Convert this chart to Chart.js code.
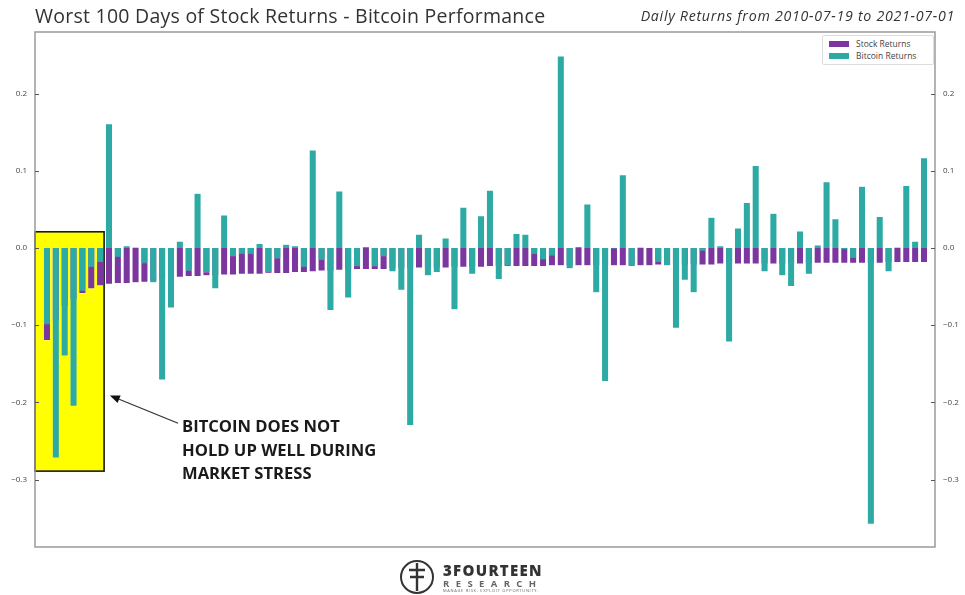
<!DOCTYPE html>
<html>
<head>
<meta charset="utf-8">
<script src="https://cdn.jsdelivr.net/npm/chart.js@4.4.1/dist/chart.umd.min.js"></script>
<style>
html,body{margin:0;padding:0;background:#fff;}
#wrap{position:relative;width:965px;height:595px;overflow:hidden;font-family:"Open Sans",sans-serif;}
#c{position:absolute;left:0;top:0;}
.title{position:absolute;left:35px;top:2px;font-size:19.5px;letter-spacing:0.25px;color:#333;white-space:nowrap;}
.subtitle{position:absolute;right:10px;top:6px;font-size:14.2px;letter-spacing:0.72px;font-style:italic;color:#333;white-space:nowrap;}
.legend{position:absolute;left:822px;top:35px;width:110px;height:28px;border:1px solid #ddd;background:#fff;border-radius:2px;font-size:8.5px;color:#444;}
.legend .row{position:absolute;left:6px;height:12px;line-height:12px;white-space:nowrap;}
.legend .sw{display:inline-block;width:20px;height:6px;vertical-align:middle;margin-right:7px;margin-top:-2px;}
.note{position:absolute;left:182px;top:414px;font-weight:700;font-size:16.6px;line-height:23.5px;color:#1a1a1a;white-space:nowrap;}
.logo{position:absolute;left:398px;top:558px;width:160px;height:37px;}
.logo .name{position:absolute;left:45px;top:2px;font-weight:800;font-size:15px;letter-spacing:1.3px;color:#333;}
.logo .sub{position:absolute;left:45px;top:19px;font-size:9.5px;font-weight:700;letter-spacing:6.4px;color:#666;}
.logo .tag{position:absolute;left:45px;top:30px;font-size:4px;letter-spacing:0.7px;color:#666;white-space:nowrap;}
</style>
</head>
<body>
<div id="wrap">
<canvas id="c" width="965" height="595"></canvas>
<div class="title" id="title"></div>
<div class="subtitle" id="subtitle"></div>
<div class="legend" id="legend"></div>
<div class="note" id="note"></div>
<div class="logo">
  <svg width="40" height="37" viewBox="0 0 40 37">
    <circle cx="19" cy="19" r="16" fill="none" stroke="#333" stroke-width="2"/>
    <path d="M19 5 V33 M19 12 H11 M19 19 H12 M19 12 H27 M19 19 H26" stroke="#333" stroke-width="2.4" fill="none"/>
  </svg>
  <div class="name">3FOURTEEN</div>
  <div class="sub">RESEARCH</div>
  <div class="tag">MANAGE RISK. EXPLOIT OPPORTUNITY.</div>
</div>
</div>
<script>
// ---------- data ----------
const chartTitle = "Worst 100 Days of Stock Returns - Bitcoin Performance";
const chartSubtitle = "Daily Returns from 2010-07-19 to 2021-07-01";
const seriesNames = ["Stock Returns", "Bitcoin Returns"];
const noteLines = ["BITCOIN DOES NOT", "HOLD UP WELL DURING", "MARKET STRESS"];
const yTickValues = [-0.3, -0.2, -0.1, 0.0, 0.1, 0.2];

const stockReturns = [
 -0.120,-0.095,-0.076,-0.067,-0.059,-0.053,-0.049,-0.047,-0.046,-0.046,
 -0.045,-0.0445,-0.043,-0.041,-0.039,-0.038,-0.037,-0.037,-0.036,-0.036,
 -0.035,-0.035,-0.034,-0.034,-0.034,-0.033,-0.033,-0.033,-0.032,-0.032,
 -0.031,-0.030,-0.030,-0.029,-0.029,-0.028,-0.028,-0.028,-0.028,-0.027,
 -0.027,-0.027,-0.026,-0.026,-0.026,-0.026,-0.025,-0.025,-0.025,-0.025,
 -0.024,-0.024,-0.024,-0.024,-0.024,-0.024,-0.024,-0.023,-0.023,-0.023,
 -0.023,-0.023,-0.023,-0.023,-0.023,-0.023,-0.023,-0.023,-0.023,-0.022,
 -0.022,-0.022,-0.022,-0.022,-0.022,-0.022,-0.021,-0.021,-0.021,-0.021,
 -0.021,-0.021,-0.021,-0.021,-0.021,-0.021,-0.021,-0.020,-0.020,-0.020,
 -0.020,-0.020,-0.020,-0.020,-0.020,-0.019,-0.019,-0.019,-0.019,-0.019
];
const bitcoinReturns = [
 -0.099,-0.272,-0.140,-0.205,-0.056,-0.025,-0.018, 0.161,-0.012, 0.003,
  0.001,-0.020,-0.045,-0.171,-0.078, 0.009,-0.030, 0.071,-0.032,-0.053,
  0.043,-0.011,-0.008,-0.008, 0.006,-0.032,-0.014, 0.005, 0.003,-0.025,
  0.127,-0.016,-0.081, 0.074,-0.065,-0.024, 0.002,-0.024,-0.011,-0.031,
 -0.055,-0.230, 0.018,-0.036,-0.032, 0.013,-0.080, 0.053,-0.034, 0.042,
  0.075,-0.041,-0.023, 0.019, 0.018,-0.008,-0.015,-0.010, 0.249,-0.027,
  0.002, 0.057,-0.058,-0.173,-0.001, 0.095,-0.024, 0.001, 0.000,-0.018,
 -0.023,-0.104,-0.042,-0.058,-0.004, 0.040, 0.003,-0.122, 0.026, 0.059,
  0.107,-0.031, 0.045,-0.036,-0.050, 0.022,-0.034, 0.004, 0.086, 0.038,
 -0.002,-0.013, 0.080,-0.358, 0.041,-0.031, 0.001, 0.081, 0.009, 0.117
];

// ---------- styles / layout ----------
const STOCK_COLOR = "#7b369f";
const BTC_COLOR = "#2eaaa4";
const X_MIN = -1.35, X_MAX = 100.24;
const Y_MIN = -0.3873, Y_MAX = 0.2798;
const highlight = { xFrom: X_MIN, xTo: 6.45, yTop: 0.021, yBottom: -0.289 };
const arrow = { fromX: 14.8, fromY: -0.227, toX: 7.1, toY: -0.191 };

document.getElementById('title').textContent = chartTitle;
document.getElementById('subtitle').textContent = chartSubtitle;
document.getElementById('note').innerHTML = noteLines.map(s => '<div>' + s + '</div>').join('');
const legendEl = document.getElementById('legend');
[STOCK_COLOR, BTC_COLOR].forEach((col, i) => {
  const r = document.createElement('div');
  r.className = 'row';
  r.style.top = (2 + i * 12) + 'px';
  r.innerHTML = '<span class="sw" style="background:' + col + '"></span>' + seriesNames[i];
  legendEl.appendChild(r);
});

const toXY = arr => arr.map((v, i) => ({ x: i, y: v }));
const fmt = v => { const r = Math.round(v * 10) / 10; return (r < 0 ? '\u2212' : '') + Math.abs(r).toFixed(1); };

const overlay = {
  id: 'overlay',
  beforeDatasetsDraw(chart) {
    const { ctx, scales: { x, y } } = chart;
    const l = x.getPixelForValue(highlight.xFrom), r = x.getPixelForValue(highlight.xTo);
    const t = y.getPixelForValue(highlight.yTop), b = y.getPixelForValue(highlight.yBottom);
    ctx.save();
    ctx.fillStyle = '#ffff00';
    ctx.fillRect(l, t, r - l, b - t);
    ctx.restore();
  },
  afterDatasetsDraw(chart) {
    const { ctx, chartArea: ca, scales: { x, y } } = chart;
    ctx.save();
    const l = x.getPixelForValue(highlight.xFrom), r = x.getPixelForValue(highlight.xTo);
    const t = y.getPixelForValue(highlight.yTop), b = y.getPixelForValue(highlight.yBottom);
    ctx.strokeStyle = '#1a1a1a'; ctx.lineWidth = 1.6;
    ctx.strokeRect(l, t, r - l, b - t);
    const x0 = x.getPixelForValue(arrow.fromX), y0 = y.getPixelForValue(arrow.fromY);
    const x1 = x.getPixelForValue(arrow.toX), y1 = y.getPixelForValue(arrow.toY);
    const ang = Math.atan2(y1 - y0, x1 - x0);
    const hl = 10, hw = 4;
    const bx = x1 - hl * Math.cos(ang), by = y1 - hl * Math.sin(ang);
    ctx.strokeStyle = '#333'; ctx.lineWidth = 1.3;
    ctx.beginPath(); ctx.moveTo(x0, y0); ctx.lineTo(bx, by); ctx.stroke();
    ctx.fillStyle = '#111';
    ctx.beginPath();
    ctx.moveTo(x1, y1);
    ctx.lineTo(bx + hw * Math.sin(ang), by - hw * Math.cos(ang));
    ctx.lineTo(bx - hw * Math.sin(ang), by + hw * Math.cos(ang));
    ctx.closePath(); ctx.fill();
    ctx.strokeStyle = '#9a9a9a'; ctx.lineWidth = 1.5;
    ctx.strokeRect(ca.left, ca.top, ca.right - ca.left, ca.bottom - ca.top);
    ctx.strokeStyle = '#555'; ctx.lineWidth = 1;
    yTickValues.forEach(v => {
      const py = Math.round(y.getPixelForValue(v)) + 0.5;
      ctx.beginPath(); ctx.moveTo(ca.left, py); ctx.lineTo(ca.left + 4, py); ctx.stroke();
      ctx.beginPath(); ctx.moveTo(ca.right, py); ctx.lineTo(ca.right - 4, py); ctx.stroke();
    });
    ctx.restore();
  }
};

const yCommon = {
  type: 'linear', min: Y_MIN, max: Y_MAX,
  grid: { display: false, drawTicks: false },
  border: { display: false },
  ticks: { stepSize: 0.1, includeBounds: false, padding: 8, color: '#444',
           font: { family: 'Open Sans', size: 8 }, callback: fmt }
};

new Chart(document.getElementById('c'), {
  type: 'bar',
  data: {
    datasets: [
      { label: seriesNames[0], data: toXY(stockReturns), backgroundColor: STOCK_COLOR,
        borderColor: 'rgba(255,255,255,0.35)', borderWidth: 0.6,
        order: 2, grouped: false, barPercentage: 0.82, categoryPercentage: 1, yAxisID: 'y' },
      { label: seriesNames[1], data: toXY(bitcoinReturns), backgroundColor: BTC_COLOR,
        borderColor: 'rgba(255,255,255,0.35)', borderWidth: 0.6,
        order: 1, grouped: false, barPercentage: 0.82, categoryPercentage: 1, yAxisID: 'y' }
    ]
  },
  options: {
    responsive: false, animation: false, devicePixelRatio: 1,
    layout: { padding: { top: 32, bottom: 48, left: 0, right: 0 } },
    plugins: { legend: { display: false }, tooltip: { enabled: false }, title: { display: false } },
    scales: {
      x: { type: 'linear', min: X_MIN, max: X_MAX, offset: false, display: false, grid: { display: false } },
      y: Object.assign({}, yCommon, { position: 'left', afterFit: s => { s.width = 35; } }),
      y2: Object.assign({}, yCommon, { position: 'right', afterFit: s => { s.width = 30; } })
    }
  },
  plugins: [overlay]
});
</script>
</body>
</html>
